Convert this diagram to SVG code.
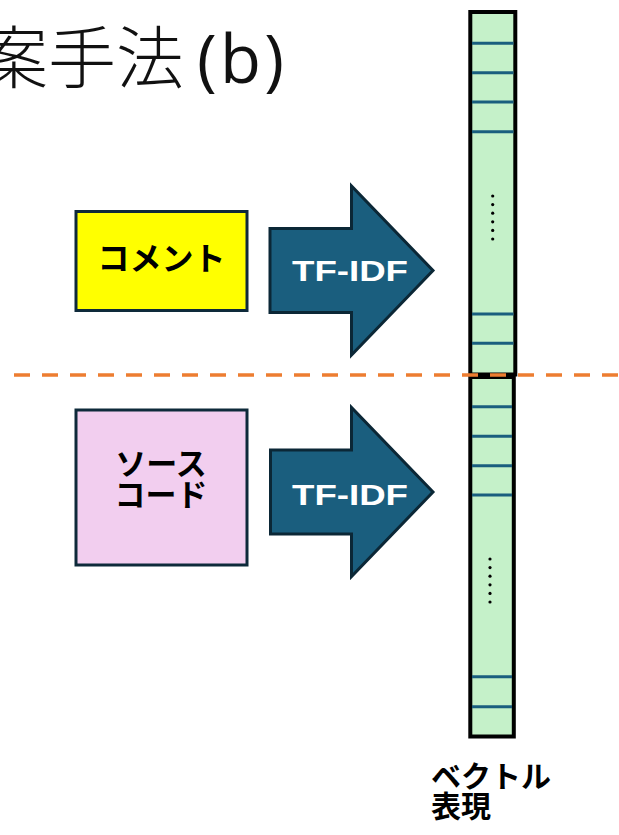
<svg xmlns="http://www.w3.org/2000/svg" width="619" height="835" viewBox="0 0 619 835">
  <style>
    .title { font-family: "Noto Sans CJK JP", "Noto Sans", sans-serif; font-weight: 300; font-size: 68px; fill: #111111; }
    .title-latin { font-family: "Open Sans", "Noto Sans", sans-serif; font-weight: 400; font-size: 67px; }
    .box { stroke: #0e2a3a; stroke-width: 3; }
    .label { font-family: "Noto Sans CJK JP", sans-serif; font-weight: 700; font-size: 32px; fill: #000000; text-anchor: middle; }
    .label-2 { font-size: 31px; }
    .arrow { fill: #1a5e7e; stroke: #0b2736; stroke-width: 3; stroke-linejoin: miter; }
    .arrow-text { font-family: "Liberation Sans", "Noto Sans CJK JP", sans-serif; font-weight: 700; font-size: 29px; fill: #ffffff; text-anchor: middle; }
    .vec { fill: #c5f1c9; stroke: #000000; stroke-width: 4; }
    .cell { stroke: #1a5e7e; stroke-width: 3; }
    .dot { fill: #000000; }
    .caption { font-family: "Noto Sans CJK JP", sans-serif; font-weight: 700; font-size: 30px; fill: #000000; }
  </style>

  <!-- heading -->
  <text class="title" x="-20" y="83">案手法<tspan class="title-latin" x="197" textLength="87" lengthAdjust="spacing">(b)</tspan></text>

  <!-- input nodes -->
  <g id="comment">
    <rect class="box" x="76" y="211.5" width="171" height="99" fill="#ffff00"/>
    <text class="label" x="161.5" y="270">コメント</text>
  </g>
  <g id="source-code">
    <rect class="box" x="76" y="410" width="171" height="155" fill="#f2ceef"/>
    <text class="label label-2" x="161" y="475">ソース<tspan x="161" y="506">コード</tspan></text>
  </g>

  <!-- TF-IDF transforms -->
  <g id="connectors">
    <g id="tfidf-comment">
      <path class="arrow" d="M270,228.5 H351.5 V186 L433,270.5 L351.5,355 V312.5 H270 Z"/>
      <text class="arrow-text" x="350" y="281" textLength="116" lengthAdjust="spacingAndGlyphs">TF-IDF</text>
    </g>
    <g id="tfidf-source">
      <path class="arrow" d="M270.5,450 H351.5 V407.5 L433,492 L351.5,576.5 V534 H270.5 Z"/>
      <text class="arrow-text" x="350" y="505" textLength="116" lengthAdjust="spacingAndGlyphs">TF-IDF</text>
    </g>
  </g>

  <!-- vector representation -->
  <g id="vector-comment">
    <rect class="vec" x="470.3" y="12" width="45" height="362.5"/>
    <g class="cell">
      <line x1="472" y1="43.3" x2="513.5" y2="43.3"/>
      <line x1="472" y1="72.7" x2="513.5" y2="72.7"/>
      <line x1="472" y1="102" x2="513.5" y2="102"/>
      <line x1="472" y1="131.7" x2="513.5" y2="131.7"/>
      <line x1="472" y1="314" x2="513.5" y2="314"/>
      <line x1="472" y1="343.3" x2="513.5" y2="343.3"/>
    </g>
    <g class="dot">
      <circle cx="492.7" cy="196" r="1.6"/>
      <circle cx="492.7" cy="204.6" r="1.6"/>
      <circle cx="492.7" cy="213.2" r="1.6"/>
      <circle cx="492.7" cy="221.8" r="1.6"/>
      <circle cx="492.7" cy="230.4" r="1.6"/>
      <circle cx="492.7" cy="239" r="1.6"/>
    </g>
  </g>
  <g id="vector-source">
    <rect class="vec" x="470.3" y="377" width="43.5" height="359.5"/>
    <g class="cell">
      <line x1="472" y1="406.7" x2="512" y2="406.7"/>
      <line x1="472" y1="436.3" x2="512" y2="436.3"/>
      <line x1="472" y1="465.7" x2="512" y2="465.7"/>
      <line x1="472" y1="495" x2="512" y2="495"/>
      <line x1="472" y1="676.7" x2="512" y2="676.7"/>
      <line x1="472" y1="706.7" x2="512" y2="706.7"/>
    </g>
    <g class="dot">
      <circle cx="490" cy="559" r="1.6"/>
      <circle cx="490" cy="567.6" r="1.6"/>
      <circle cx="490" cy="576.2" r="1.6"/>
      <circle cx="490" cy="584.8" r="1.6"/>
      <circle cx="490" cy="593.4" r="1.6"/>
      <circle cx="490" cy="602" r="1.6"/>
    </g>
  </g>

  <!-- separator between comment and source-code halves -->
  <line x1="14" y1="375" x2="619" y2="375" stroke="#ed7d31" stroke-width="3.5" stroke-dasharray="16 12"/>

  <g id="caption">
    <text class="caption" x="431" y="787">ベクトル<tspan x="431" y="817">表現</tspan></text>
  </g>
</svg>
